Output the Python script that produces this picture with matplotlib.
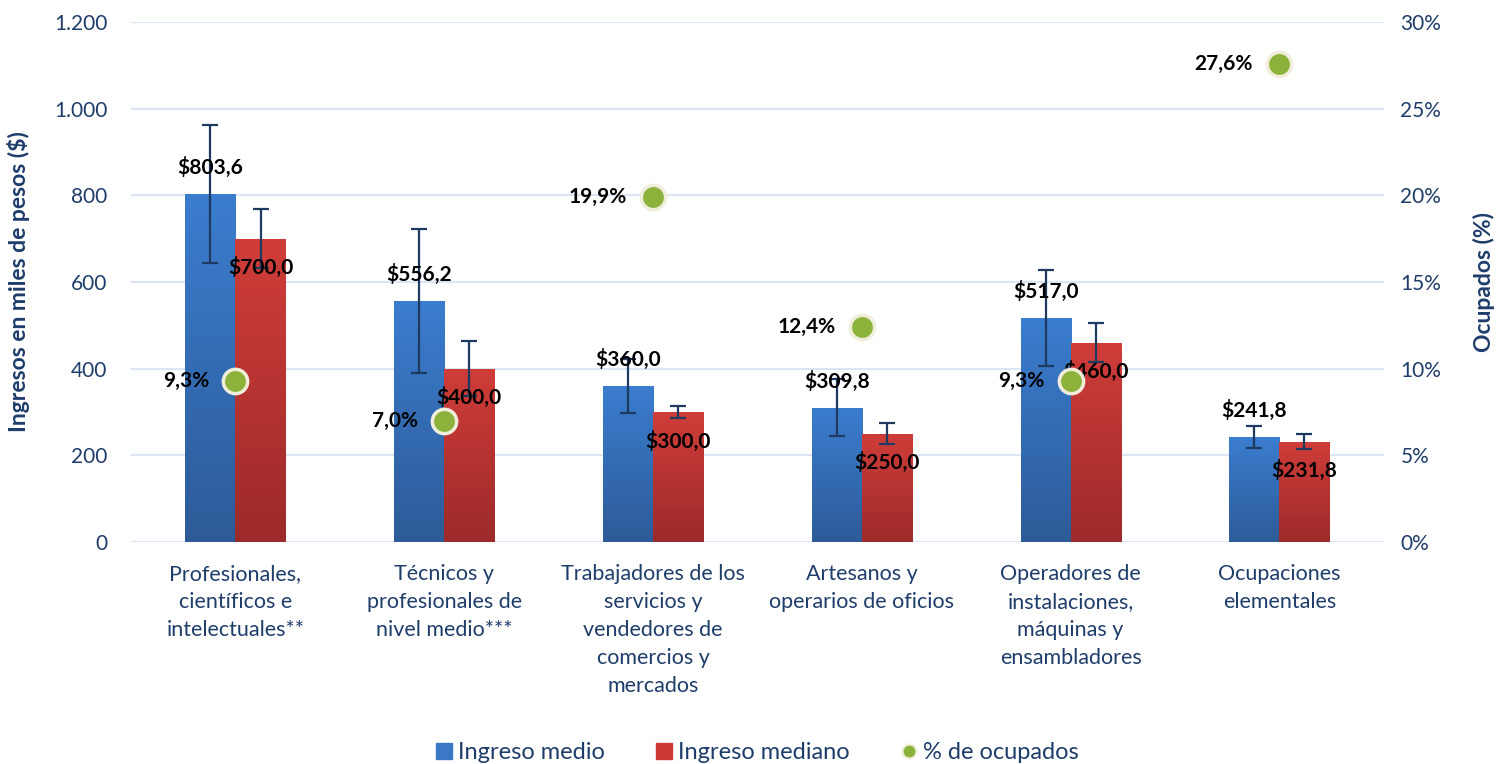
import matplotlib.pyplot as plt
import numpy as np
from matplotlib.lines import Line2D
from matplotlib.colors import LinearSegmentedColormap
from matplotlib.ticker import FuncFormatter

plt.rcParams['font.family'] = ['Lato', 'DejaVu Sans']

categorias = ["Profesionales,\ncientíficos e\nintelectuales**",
              "Técnicos y\nprofesionales de\nnivel medio***",
              "Trabajadores de los\nservicios y\nvendedores de\ncomercios y\nmercados",
              "Artesanos y\noperarios de oficios",
              "Operadores de\ninstalaciones,\nmáquinas y\nensambladores",
              "Ocupaciones\nelementales"]
ingreso_medio = [803.6, 556.2, 360.0, 309.8, 517.0, 241.8]
ingreso_mediano = [700.0, 400.0, 300.0, 250.0, 460.0, 231.8]
error_medio = [159, 167, 63, 66, 111, 26]
error_mediano = [68, 63, 14, 25, 45, 17]
pct_ocupados = [9.3, 7.0, 19.9, 12.4, 9.3, 27.6]

azul = "#3a78c6"
rojo = "#cc3a37"
verde = "#8cb23c"
texto = "#1f3d6b"
grid_c = "#dbe5f3"

x = np.arange(len(categorias))
w = 0.24

fig, ax = plt.subplots(figsize=(14.96, 7.64), dpi=100)
fig.subplots_adjust(left=0.0876, right=0.925, bottom=0.2906, top=0.9712)

b1 = ax.bar(x - w/2, ingreso_medio, w, color=azul, zorder=2)
b2 = ax.bar(x + w/2, ingreso_mediano, w, color=rojo, zorder=2)

# degradado vertical en las barras
cm_azul = LinearSegmentedColormap.from_list("a", ["#2d5b98", "#3b7dcf"])
cm_rojo = LinearSegmentedColormap.from_list("r", ["#9c2a2a", "#d03d39"])
grad = np.linspace(0, 1, 256).reshape(-1, 1)
for bars, cm in ((b1, cm_azul), (b2, cm_rojo)):
    for b in bars:
        x0, h = b.get_x(), b.get_height()
        im = ax.imshow(grad, extent=[x0, x0 + b.get_width(), 0, h], origin="lower",
                       cmap=cm, aspect="auto", zorder=2.1)
        im.set_clip_path(b)

ax.errorbar(x - w/2, ingreso_medio, yerr=error_medio, fmt="none", ecolor="#1f3a60",
            elinewidth=1.6, capsize=6, capthick=1.6, zorder=3)
ax.errorbar(x + w/2, ingreso_mediano, yerr=error_mediano, fmt="none", ecolor="#1f3a60",
            elinewidth=1.6, capsize=6, capthick=1.6, zorder=3)

ax.set_xlim(-0.5, len(categorias) - 0.5)
ax.set_ylim(0, 1200)
ax.set_yticks(range(0, 1201, 200))
ax.yaxis.set_major_formatter(FuncFormatter(lambda v, p: f"{int(v):,}".replace(",", ".")))
ax.grid(axis="y", color=grid_c, linewidth=1.5, zorder=0)
ax.set_axisbelow(True)
for s in ax.spines.values():
    s.set_visible(False)
ax.tick_params(axis="both", length=0, labelsize=15, labelcolor=texto)
ax.tick_params(axis="y", pad=17)
ax.set_xticks(x)
ax.set_xticklabels(categorias, linespacing=1.5, va="top", fontsize=15.5)
ax.tick_params(axis="x", pad=16)
ax.set_ylabel("Ingresos en miles de pesos ($)", fontsize=16.5, fontweight="bold",
              color=texto)
ax.yaxis.set_label_coords(-0.081, 0.5)

for xi, v in zip(x, ingreso_medio):
    ax.annotate(f"${v:.1f}".replace(".", ","), (xi - w/2, v), xytext=(0, 19),
                textcoords="offset points", ha="center", va="center",
                fontsize=15, fontweight="bold", color="black", zorder=5)
for xi, v in zip(x, ingreso_mediano):
    ax.annotate(f"${v:.1f}".replace(".", ","), (xi + w/2, v), xytext=(0, -21),
                textcoords="offset points", ha="center", va="center",
                fontsize=15, fontweight="bold", color="black", zorder=5)

ax2 = ax.twinx()
ax2.set_ylim(0, 30)
ax2.set_yticks(range(0, 31, 5))
ax2.yaxis.set_major_formatter(FuncFormatter(lambda v, p: f"{int(v)}%"))
for s in ax2.spines.values():
    s.set_visible(False)
ax2.tick_params(axis="y", length=0, labelsize=15, labelcolor=texto, pad=12)
ax2.set_ylabel("Ocupados (%)", fontsize=16.5, fontweight="bold", color=texto)
ax2.yaxis.set_label_coords(1.0715, 0.5)
ax2.plot(x, pct_ocupados, linestyle="none", marker="o", markersize=17.5,
         markerfacecolor=verde, markeredgecolor="#f0eedb", markeredgewidth=2.5, zorder=4)
for xi, p in zip(x, pct_ocupados):
    ax2.annotate(f"{p:.1f}%".replace(".", ","), (xi, p), xytext=(-19, 0),
                 textcoords="offset points", ha="right", va="center",
                 fontsize=15, fontweight="bold", color="black")

handles = [Line2D([], [], linestyle="none", marker="s", markersize=11,
                  markerfacecolor=azul, markeredgecolor=azul),
           Line2D([], [], linestyle="none", marker="s", markersize=11,
                  markerfacecolor=rojo, markeredgecolor=rojo),
           Line2D([], [], linestyle="none", marker="o", markersize=10,
                  markerfacecolor=verde, markeredgecolor="#f0eedb", markeredgewidth=1.5)]
fig.legend(handles, ["Ingreso medio", "Ingreso mediano", "% de ocupados"],
           loc="center", bbox_to_anchor=(0.505, 0.015), ncol=3, frameon=False,
           fontsize=17, labelcolor=texto, handletextpad=0.1, columnspacing=2.0,
           handlelength=1.0)

plt.savefig("out.png", dpi=100)
